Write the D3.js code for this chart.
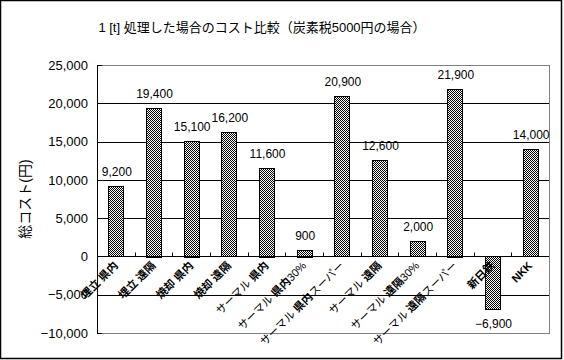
<!DOCTYPE html>
<html><head><meta charset="utf-8">
<script src="https://cdn.jsdelivr.net/npm/d3@7"></script>
<style>
body{margin:0;background:#fff;}
text{font-family:"Liberation Sans","Noto Sans CJK JP",sans-serif;fill:#000;}
</style></head>
<body><svg id="c" width="564" height="360"></svg>
<script>
const categories = ["埋立 県内","埋立 遠隔","焼却 県内","焼却 遠隔","サーマル 県内","サーマル 県内30%","サーマル 県内スーパー","サーマル 遠隔","サーマル 遠隔30%","サーマル 遠隔スーパー","新日鉄","NKK"];
const values = [9200,19400,15100,16200,11600,900,20900,12600,2000,21900,-6900,14000];
const yTicks = [-10000,-5000,0,5000,10000,15000,20000,25000];
const title = "1 [t] 処理した場合のコスト比較（炭素税5000円の場合）";
const yTitle = "総コスト(円)";

const svg = d3.select("#c");
const L = 97, R = 549, T = 65, B = 333;

const defs = svg.append("defs");
const pat = defs.append("pattern").attr("id","chk").attr("patternUnits","userSpaceOnUse")
  .attr("width",2).attr("height",2);
pat.append("rect").attr("width",2).attr("height",2).attr("fill","#fff");
pat.append("rect").attr("x",0).attr("y",0).attr("width",1).attr("height",1).attr("fill","#000");
pat.append("rect").attr("x",1).attr("y",1).attr("width",1).attr("height",1).attr("fill","#000");

svg.append("rect").attr("x",0.5).attr("y",0.5).attr("width",561).attr("height",358)
  .attr("fill","#fff").attr("stroke","#000").attr("stroke-width",1.5);

const y = d3.scaleLinear().domain([-10000,25000]).range([B,T]);
const x = d3.scaleBand().domain(categories).range([L,R]).padding(0);
const bw = x.bandwidth()*0.4;
const fmt = d3.format(",");

svg.append("g").selectAll("line").data(yTicks.filter(d=>d>-10000 && d<25000)).join("line")
  .attr("x1",L).attr("x2",R).attr("y1",d=>Math.round(y(d))+0.5).attr("y2",d=>Math.round(y(d))+0.5)
  .attr("stroke","#000");
svg.append("rect").attr("x",L+0.5).attr("y",Math.round(T)+0.5).attr("width",R-L).attr("height",Math.round(B)-Math.round(T))
  .attr("fill","none").attr("stroke","#808080");
svg.append("line").attr("x1",L+0.5).attr("x2",L+0.5).attr("y1",T).attr("y2",B+1).attr("stroke","#000");
svg.append("g").selectAll("line").data(yTicks).join("line")
  .attr("x1",L).attr("x2",L+5).attr("y1",d=>Math.round(y(d))+0.5).attr("y2",d=>Math.round(y(d))+0.5)
  .attr("stroke","#000");
svg.append("g").selectAll("text").data(yTicks).join("text")
  .attr("x",88).attr("y",d=>y(d)).attr("dy","0.36em").attr("text-anchor","end")
  .attr("font-size",13).text(d=>fmt(d));

svg.append("g").selectAll("rect").data(values).join("rect")
  .attr("x",(d,i)=>Math.round(x(categories[i])+x.bandwidth()/2-bw/2)+0.5)
  .attr("y",d=>Math.round(y(Math.max(0,d)))+0.5)
  .attr("width",Math.round(bw))
  .attr("height",d=>Math.round(Math.abs(y(d)-y(0))))
  .attr("fill","url(#chk)").attr("stroke","#000");

const y0 = Math.round(y(0))+0.5;
svg.append("line").attr("x1",L).attr("x2",R).attr("y1",y0).attr("y2",y0).attr("stroke","#000");
svg.append("g").selectAll("line").data(categories.slice(1)).join("line")
  .attr("x1",d=>Math.round(x(d))+0.5).attr("x2",d=>Math.round(x(d))+0.5)
  .attr("y1",y0-4).attr("y2",y0).attr("stroke","#000");

svg.append("g").selectAll("text").data(values).join("text")
  .attr("x",(d,i)=>x(categories[i])+x.bandwidth()/2+1)
  .attr("y",d=>d>=0 ? y(d)-10 : y(d)+19)
  .attr("text-anchor","middle").attr("font-size",12).text(d=>fmt(d));

// category labels: ideographs / latin capitals heavy, kana & digits regular
const heavy = /[\u4e00-\u9fffA-Z]/;
const lab = svg.append("g").selectAll("text").data(categories).join("text")
  .attr("transform",d=>`translate(${x(d)+x.bandwidth()/2-3},${y0+4}) rotate(-45)`)
  .attr("dy","0.75em").attr("text-anchor","end").attr("font-size",11);
lab.each(function(d){
  const t = d3.select(this);
  const parts = [];
  for (const ch of d) {
    const h = heavy.test(ch);
    if (parts.length && parts[parts.length-1].h === h) parts[parts.length-1].s += ch;
    else parts.push({h, s: ch});
  }
  parts.forEach(p => t.append("tspan").attr("font-weight", p.h ? "bold" : "normal").text(p.s));
});

svg.append("text").attr("x",262).attr("y",27).attr("dy","0.36em").attr("text-anchor","middle")
  .attr("font-size",13).text(title);
svg.append("text").attr("transform",`translate(25,${(T+B)/2}) rotate(-90)`).attr("dy","0.36em")
  .attr("text-anchor","middle").attr("font-size",14).text(yTitle);
</script></body></html>
